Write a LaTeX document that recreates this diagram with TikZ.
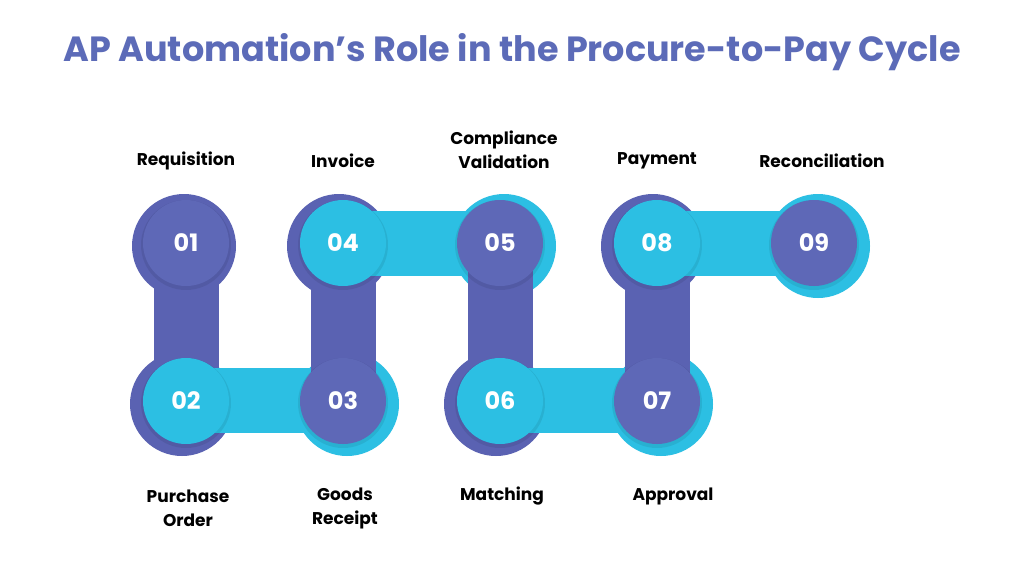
\documentclass[tikz,border=0pt]{standalone}
\usepackage{fontspec}
\setmainfont{Poppins}
\definecolor{dk}{HTML}{5A62B2}
\definecolor{dkin}{HTML}{5E68B7}
\definecolor{cy}{HTML}{2CBFE3}
\definecolor{tt}{HTML}{5C6BB8}
\tikzset{x=1pt,y=-1pt,
 lbl/.style={font=\bfseries\fontsize{17}{24}\selectfont,align=center,text=black},
 num/.style={font=\bfseries\fontsize{24}{26}\selectfont,text=white},
 vbar/.style={fill=dk},
 hbar/.style={fill=cy}}
\begin{document}
\begin{tikzpicture}
\useasboundingbox (0,0) rectangle (1024,576);
\fill[white] (0,0) rectangle (1024,576);
\node[font=\bfseries\fontsize{35}{38}\selectfont,text=tt] (title) at (512,52) {AP Automation\char"27 s Role in the Procure-to-Pay Cycle};
\foreach \n/\x/\y/\oc/\dx in {1/186/243/dk/-2,2/186/401/dk/-4,3/343/401/cy/4,4/343/243/dk/-4,5/500/243/cy/4,6/500/401/dk/-4,7/657/401/cy/4,8/657/243/dk/-4,9/814/243/cy/4}
  \fill[\oc] (\x+\dx,\y+3) circle (52);
\fill[vbar] (154,243) rectangle (219,401);
\fill[hbar] (186,368) rectangle (343,433);
\fill[vbar] (311,243) rectangle (376,401);
\fill[hbar] (343,211) rectangle (500,276);
\fill[vbar] (468,243) rectangle (533,401);
\fill[hbar] (500,368) rectangle (657,433);
\fill[vbar] (625,243) rectangle (690,401);
\fill[hbar] (657,211) rectangle (814,276);
\foreach \n/\x/\y/\ic in {1/186/243/dkin,2/186/401/cy,3/343/401/dkin,4/343/243/cy,5/500/243/dkin,6/500/401/cy,7/657/401/dkin,8/657/243/cy,9/814/243/dkin}{
  \fill[black,opacity=0.08] (\x,\y+2) circle (45);
  \node[circle,fill=\ic,minimum size=86pt,inner sep=0,num] (s\n) at (\x,\y) {0\n};
}
\node[lbl] (l1) at (186,161) {Requisition};
\node[lbl] (l4) at (343,161) {Invoice};
\node[lbl] (l5) at (504,150) {Compliance\\Validation};
\node[lbl] (l8) at (657,161) {Payment};
\node[lbl] (l9) at (822,161) {Reconciliation};
\node[lbl] (l2) at (188,508) {Purchase\\Order};
\node[lbl] (l3) at (345,508) {Goods\\Receipt};
\node[lbl] (l6) at (502,496) {Matching};
\node[lbl] (l7) at (673,496) {Approval};
\end{tikzpicture}
\end{document}
